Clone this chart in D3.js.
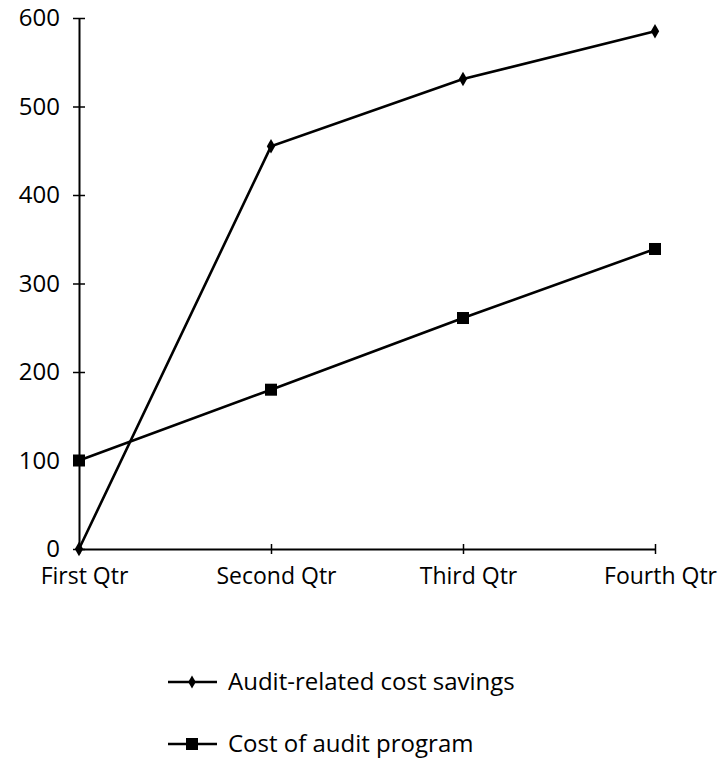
<!DOCTYPE html>
<html>
<head>
<meta charset="utf-8">
<script src="https://cdn.jsdelivr.net/npm/d3@7"></script>
<style>
  html, body { margin: 0; padding: 0; background: #fff; }
  svg { display: block; }
  text { font-family: "Open Sans", "DejaVu Sans", sans-serif; fill: #000; }
</style>
</head>
<body>
<svg id="chart" width="720" height="760"></svg>
<script>
// Quarterly comparison: audit savings vs. cost of the audit program
const quarters = ["First Qtr", "Second Qtr", "Third Qtr", "Fourth Qtr"];
const savings = [0, 455, 531, 585];
const costs = [100, 180, 261, 339];
const yTicks = [0, 100, 200, 300, 400, 500, 600];
const seriesNames = ["Audit-related cost savings", "Cost of audit program"];

const svg = d3.select("#chart");

const x = d3.scalePoint().domain(quarters).range([79, 655]);
const y = d3.scaleLinear().domain([0, 600]).range([549, 18]);

// Y axis with ticks crossing the axis line
const yAxis = svg.append("g")
  .attr("transform", `translate(${x(quarters[0])},0)`)
  .call(d3.axisLeft(y).tickValues(yTicks).tickSize(6).tickPadding(13).tickSizeOuter(0));
yAxis.select(".domain").attr("stroke", "#000").attr("stroke-width", 2);
yAxis.selectAll(".tick line").attr("x1", -6).attr("x2", 6).attr("stroke", "#000").attr("stroke-width", 1.5);
yAxis.selectAll(".tick text").attr("font-size", 24).style("font-family", "'Open Sans', sans-serif");

// X axis along the zero line, ticks crossing too
const xAxis = svg.append("g")
  .attr("transform", `translate(0,${y(0)})`)
  .call(d3.axisBottom(x).tickSize(5).tickPadding(14).tickSizeOuter(0));
xAxis.select(".domain").attr("stroke", "#000").attr("stroke-width", 2);
xAxis.selectAll(".tick line").attr("y1", -5).attr("y2", 5).attr("stroke", "#000").attr("stroke-width", 1.5);
xAxis.selectAll(".tick text").attr("font-size", 23).attr("dx", 5).style("font-family", "'Open Sans', sans-serif");

const line = d3.line().x((d, i) => x(quarters[i])).y(d => y(d));

// Savings series: line with diamond markers
svg.append("path").datum(savings)
  .attr("d", line).attr("fill", "none").attr("stroke", "#000").attr("stroke-width", 2.6);
svg.selectAll(".diamond").data(savings).join("path")
  .attr("class", "diamond")
  .attr("d", d3.symbol(d3.symbolDiamond, 60))
  .attr("transform", (d, i) => `translate(${x(quarters[i])},${y(d)})`)
  .attr("fill", "#000");

// Cost series: line with square markers
svg.append("path").datum(costs)
  .attr("d", line).attr("fill", "none").attr("stroke", "#000").attr("stroke-width", 2.6);
svg.selectAll(".square").data(costs).join("rect")
  .attr("class", "square")
  .attr("x", (d, i) => x(quarters[i]) - 6)
  .attr("y", d => y(d) - 6)
  .attr("width", 12).attr("height", 12)
  .attr("fill", "#000");

// Legend
const legend = svg.append("g");
const legendY = [682, 744];
seriesNames.forEach((name, i) => {
  const g = legend.append("g").attr("transform", `translate(0,${legendY[i]})`);
  g.append("line").attr("x1", 168).attr("x2", 217).attr("y1", 0).attr("y2", 0)
    .attr("stroke", "#000").attr("stroke-width", 2.6);
  if (i === 0) {
    g.append("path").attr("d", d3.symbol(d3.symbolDiamond, 50))
      .attr("transform", "translate(192,0)").attr("fill", "#000");
  } else {
    g.append("rect").attr("x", 186).attr("y", -6).attr("width", 12).attr("height", 12).attr("fill", "#000");
  }
  g.append("text").attr("x", 228).attr("y", 0).attr("dy", "0.35em")
    .attr("font-size", 24).text(name);
});
</script>
</body>
</html>
